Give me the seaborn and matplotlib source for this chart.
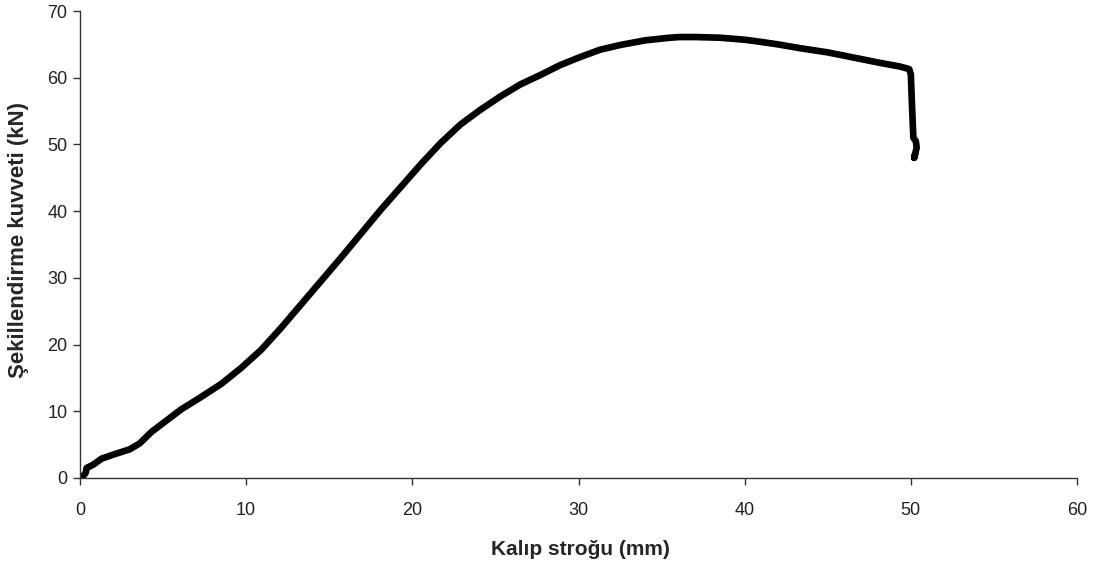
import numpy as np
import pandas as pd
import matplotlib
matplotlib.use('Agg')
import matplotlib.pyplot as plt
import seaborn as sns

# Kalip strogu (mm) vs sekillendirme kuvveti (kN)
stroke = [0.0, 0.2, 0.35, 0.4, 0.8, 1.3, 2.0, 3.0, 3.6, 4.3, 5.2, 6.1, 7.2, 8.5,
          9.7, 10.9, 12.1, 13.3, 14.5, 15.7, 16.9, 18.1, 19.3, 20.5, 21.7, 22.9,
          24.1, 25.3, 26.5, 27.7, 28.9, 30.1, 31.3, 32.5, 34.0, 35.5, 36.1, 37.0,
          38.5, 40.0, 40.9, 42.0, 43.4, 45.0, 46.4, 48.2, 49.3, 49.9, 50.0, 50.05,
          50.1, 50.15, 50.3, 50.35, 50.2, 50.25]
force = [0.0, 0.3, 0.8, 1.5, 2.0, 2.9, 3.5, 4.3, 5.2, 6.9, 8.6, 10.3, 12.0, 14.1,
         16.5, 19.2, 22.5, 26.0, 29.5, 33.0, 36.6, 40.2, 43.6, 47.0, 50.2, 53.0,
         55.2, 57.2, 59.0, 60.4, 61.9, 63.1, 64.2, 64.9, 65.6, 66.0, 66.1, 66.1,
         66.0, 65.7, 65.4, 65.0, 64.4, 63.8, 63.1, 62.2, 61.7, 61.3, 60.5, 57.0,
         54.0, 51.0, 50.5, 49.5, 48.0, 48.5]

df = pd.DataFrame({'strok': stroke, 'kuvvet': force})

sns.set_style('white')
plt.rcParams['font.family'] = ['Liberation Sans', 'DejaVu Sans']

fig = plt.figure(figsize=(10.97, 5.65), dpi=100)
ax = fig.add_axes([0.0729, 0.154, 0.9089, 0.8265])

sns.lineplot(data=df, x='strok', y='kuvvet', sort=False, estimator=None,
             color='black', linewidth=4.8, ax=ax)

ax.set_xlim(0, 60)
ax.set_ylim(0, 70)
ax.set_xticks(range(0, 61, 10))
ax.set_yticks(range(0, 71, 10))
ax.tick_params(axis='both', direction='out', length=5, width=1, color='#333333',
               labelsize=13, bottom=True, left=True, labelcolor='#222222')
ax.tick_params(axis='x', pad=12)
ax.tick_params(axis='y', pad=4)
for side in ['top', 'right']:
    ax.spines[side].set_visible(False)
for side in ['left', 'bottom']:
    ax.spines[side].set_color('#333333')
    ax.spines[side].set_linewidth(1)

ax.set_xlabel('Kalıp stroğu (mm)', fontsize=15, fontweight='bold', va='center')
ax.set_ylabel('Şekillendirme kuvveti (kN)', fontsize=16, fontweight='bold', va='center')
ax.xaxis.set_label_coords(0.502, -0.154)
ax.yaxis.set_label_coords(-0.062, 0.51)

plt.savefig('out.png', dpi=100)
